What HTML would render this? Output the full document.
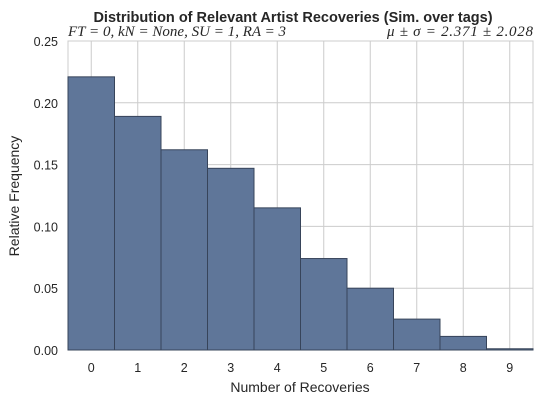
<!DOCTYPE html>
<html><head><meta charset="utf-8"><style>
body{margin:0;background:#fff;width:542px;height:406px;overflow:hidden}
svg{display:block}
text{font-family:"Liberation Sans",sans-serif;fill:#262626}
.it{font-family:"Liberation Serif",serif;font-style:italic}
</style></head><body>
<svg id="chart" width="542" height="406">
<text x="293" y="22" text-anchor="middle" font-size="14.5" font-weight="bold">Distribution of Relevant Artist Recoveries (Sim. over tags)</text>
<text x="68" y="36" class="it" font-size="15" textLength="218">FT = 0, kN = None, SU = 1, RA = 3</text>
<text x="387" y="36" class="it" font-size="15" textLength="146">μ ± σ = 2.371 ± 2.028</text>
<g id="grid"></g><g id="bars"></g><g id="axes"></g>
<text x="300" y="392" text-anchor="middle" font-size="14">Number of Recoveries</text>
<text transform="translate(19,196) rotate(-90)" text-anchor="middle" font-size="14">Relative Frequency</text>
</svg>
<script>
const categories=[0,1,2,3,4,5,6,7,8,9];
const frequencies=[0.221,0.189,0.162,0.147,0.115,0.074,0.050,0.025,0.011,0.001];
const yTicks=[0,0.05,0.10,0.15,0.20,0.25];
const yTickLabels=["0.00","0.05","0.10","0.15","0.20","0.25"];
const L=68,R=533,T=41,B=350,xmin=-0.5,xmax=9.5;
const xs=v=>L+(v-xmin)/(xmax-xmin)*(R-L);
const ys=v=>B-v/0.25*(B-T);
const NS="http://www.w3.org/2000/svg";
function mk(tag,attrs,parent){const e=document.createElementNS(NS,tag);for(const k in attrs)e.setAttribute(k,attrs[k]);document.getElementById(parent).appendChild(e);return e;}
yTicks.forEach((v,i)=>{
 const g=mk('line',{x1:L,x2:R,y1:ys(v),y2:ys(v),stroke:'#cccccc','stroke-width':1},'grid');
 
 
 const t=mk('text',{x:L-10,y:ys(v)+5,'text-anchor':'end','font-size':12.5},'axes');
 t.textContent=yTickLabels[i];
 
 
});
categories.forEach(c=>{
 const g=mk('line',{x1:xs(c),x2:xs(c),y1:T,y2:B,stroke:'#cccccc','stroke-width':1},'grid');
 
 
 const t=mk('text',{x:xs(c),y:372,'text-anchor':'middle','font-size':12.5},'axes');
 t.textContent=c;
 
 
});
const frame=mk('rect',{x:L,y:T,width:R-L,height:B-T,fill:'none',stroke:'#cccccc','stroke-width':1},'grid');


categories.forEach((c,i)=>{
 const x0=xs(c-0.5),x1=Math.min(xs(c+0.5),R);
 const b=mk('rect',{x:x0,y:ys(frequencies[i]),width:x1-x0,height:B-ys(frequencies[i]),fill:'#5f7699',stroke:'#37445a','stroke-width':1},'bars');
 
 
});
</script>
</body></html>
